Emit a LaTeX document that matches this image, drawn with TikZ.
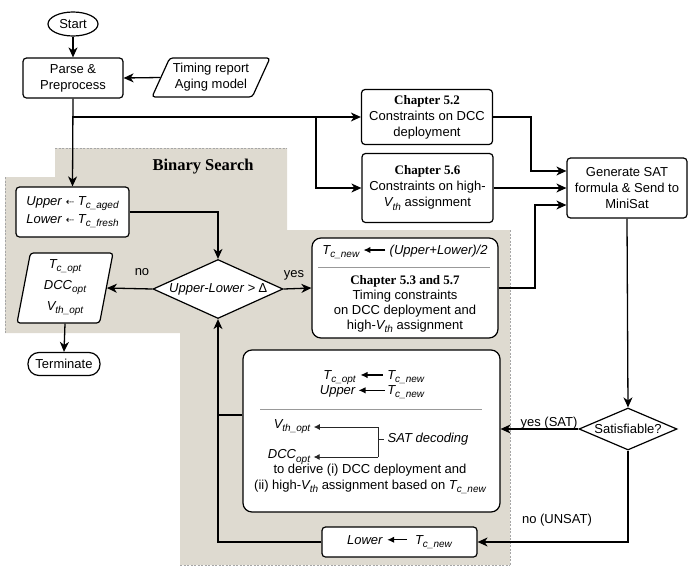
\documentclass[tikz,border=0pt]{standalone}
\usepackage{fontspec}
\setmainfont{Liberation Sans}
\newfontfamily\serifb{Liberation Serif}
\newfontfamily\djv{DejaVu Sans}
\usetikzlibrary{shapes.geometric,arrows.meta,calc}
\definecolor{bgfill}{RGB}{222,218,208}
\newcommand\sbs[1]{\raisebox{-0.45ex}{\fontsize{10}{10}\selectfont #1}}
\newcommand\larr[1]{\tikz[baseline=-0.35em]\draw[-{Latex[length=7pt,width=6.5pt]},line width=1.2pt] (#1,0pt)--(0pt,0pt);}
\newcommand\darr{{\djv\fontsize{10}{10}\selectfont ⇠}}
\begin{document}
\begin{tikzpicture}[x=1pt,y=-1pt,
  every node/.style={font=\fontsize{13}{16}\selectfont},
  box/.style={draw, line width=1.2pt, fill=white, rounded corners=3.5pt, align=center, inner sep=2pt},
  bigr/.style={box, rounded corners=9pt},
  para/.style={draw, line width=1.2pt, fill=white, trapezium, trapezium stretches body, rounded corners=3pt, align=center, inner sep=1pt},
  dmd/.style={draw, line width=1.2pt, fill=white, diamond, inner sep=0pt, align=center},
  arr/.style={line width=1.3pt, -{Stealth[length=10pt,width=9pt,inset=3pt]}},
  ln/.style={line width=1.3pt},
  sarr/.style={line width=1pt, black!85, -{Latex[length=6pt,width=6pt]}},
  dashln/.style={gray!70, line width=0.7pt, dash pattern=on 2pt off 1.5pt},
  sepln/.style={gray!80, line width=0.6pt},
  lbl/.style={inner sep=1pt}]
\useasboundingbox (0,0) rectangle (697,571);
% background region
\fill[bgfill] (55,148) -- (287,148) -- (287,230) -- (510,230) -- (510,565) -- (180,565) -- (180,333) -- (5,333) -- (5,177) -- (55,177) -- cycle;
\draw[dashln] (55,148) -- (287,148);
\draw[dashln] (5,177) -- (5,333);
\draw[dashln] (510,230) -- (510,565);
\draw[dashln] (180,565) -- (510,565);
\node[font=\serifb\bfseries\fontsize{16.5}{18}\selectfont] (bs) at (203,167) {Binary Search};

% nodes
\node[draw, line width=1.2pt, fill=white, ellipse, minimum width=50pt, minimum height=24pt, inner sep=0pt] (start) at (73,24) {Start};
\node[box, minimum width=100pt, minimum height=40pt] (parse) at (73,78) {Parse \&\\Preprocess};
\node[para, trapezium left angle=59.5, trapezium right angle=120.5, minimum width=118pt, minimum height=39pt] (timing) at (211,77.5) {Timing report\\Aging model};
\node[box, minimum width=131pt, minimum height=55pt] (c52) at (427,117) {{\serifb\bfseries Chapter 5.2}\\Constraints on DCC\\deployment};
\node[box, minimum width=131pt, minimum height=69pt] (c56) at (427.5,188) {{\serifb\bfseries Chapter 5.6}\\Constraints on high-\\\textit{V\sbs{th}} assignment};
\node[box, minimum width=120pt, minimum height=60pt] (gen) at (627,188) {Generate SAT\\formula \& Send to\\MiniSat};
\node[box, minimum width=113pt, minimum height=50pt, align=left, font=\fontsize{13}{18}\selectfont] (upbox) at (72.5,212) {\textit{Upper} \darr{} \textit{T\sbs{c\_aged}}\\\textit{Lower} \darr{} \textit{T\sbs{c\_fresh}}};
\node[dmd, aspect=2.2, minimum width=130pt, minimum height=59pt] (dia1) at (218,289) {\textit{Upper-Lower >} ∆};
\node[para, trapezium left angle=77, trapezium right angle=103, minimum width=96pt, minimum height=70pt, font=\fontsize{13}{21}\selectfont] (optp) at (65,288) {\textit{T\sbs{c\_opt}}\\\textit{DCC\sbs{opt}}\\\textit{V\sbs{th\_opt}}};
\node[box, rounded corners=11pt, minimum width=72pt, minimum height=23pt, inner sep=0pt] (term) at (64,364) {Terminate};
\node[bigr, minimum width=186pt, minimum height=100pt] (box53) at (405,288) {};
\node[bigr, minimum width=257pt, minimum height=162pt] (bigbox) at (371.5,431) {};
\node[box, minimum width=155pt, minimum height=30pt] (lower) at (399.5,542) {\textit{Lower}\ \larr{20pt}\ \ \textit{T\sbs{c\_new}}};
\node[dmd, aspect=2.33, minimum width=98pt, minimum height=42pt] (dia2) at (628,429) {Satisfiable?};

% box 5.3 content
\node (r53) at (405,252) {\textit{T\sbs{c\_new}} \larr{22pt} \textit{(Upper+Lower)/2}};
\draw[sepln] (318,267) -- (490,267);
\node[align=center, font=\fontsize{13}{15}\selectfont] (t53) at (405,304) {{\serifb\bfseries Chapter 5.3 and 5.7}\\Timing constraints\\on DCC deployment and\\high-\textit{V\sbs{th}} assignment};

% big box content
\node (rows) at (372,384) {\begin{tabular}{@{}r@{\,}c@{\,}l@{}}\textit{T\sbs{c\_opt}} & \larr{22pt} & \textit{T\sbs{c\_new}}\\[-1pt] \textit{Upper} & \larr{26pt} & \textit{T\sbs{c\_new}}\end{tabular}};
\draw[sepln] (260,409) -- (482,409);
\node (vth) at (292,427) {\textit{V\sbs{th\_opt}}};
\node (dcc) at (289,457) {\textit{DCC\sbs{opt}}};
\node (satd) at (428,439) {\textit{SAT decoding}};
\coordinate (bv) at (378,0);
\draw[sarr] (bv |- vth.east) -- (vth.east);
\draw[sarr] (bv |- dcc.east) -- (dcc.east);
\draw[line width=1pt, black!85] (bv |- vth.east) -- (bv |- dcc.east);
\draw[line width=1pt, black!85] (bv |- satd.west) -- (satd.west);
\node[align=center] (derive) at (370,479) {to derive (i) DCC deployment and\\(ii) high-\textit{V\sbs{th}} assignment based on \textit{T\sbs{c\_new}}};

% labels
\node[lbl] (lno) at (142,272) {no};
\node[lbl] (lyes) at (294,275) {yes};
\node[lbl] (lsat) at (549,423) {yes (SAT)};
\node[lbl] (lunsat) at (557,520) {no (UNSAT)};

% connectors
\coordinate (j0) at (73,117);
\coordinate (j1) at (316,117);
\coordinate (k1) at (531,117);
\coordinate (k2) at (535,205);
\coordinate (k3) at (218,415);
\coordinate (g1) at ($(gen.west)+(0,-17)$);
\coordinate (g3) at ($(gen.west)+(0,17)$);
\draw[arr] (start.south) -- (parse.north);
\draw[arr] (timing.west) -- (parse.east);
\draw[arr] (parse.south) -- (upbox.north);
\draw[arr] (j0) -- (c52.west);
\draw[arr] (j1) |- (c56.west);
\draw[arr] (c52.east) -- (k1) |- (g1);
\draw[arr] (c56.east) -- (c56.east -| gen.west);
\draw[arr] (box53.east) -| (k2) -- (g3);
\draw[arr] (upbox.east) -| (dia1.north);
\draw[arr] (dia1.west) -- (optp.east);
\draw[arr] (dia1.east) -- (box53.west);
\draw[arr] (optp.south) -- (term.north);
\draw[arr] (gen.south) -- (dia2.north);
\draw[arr] (dia2.west) -- (dia2.west -| bigbox.east);
\draw[arr] (dia2.south) |- (lower.east);
\draw[arr] (lower.west) -| (dia1.south);
\draw[ln] (bigbox.west |- k3) -- (k3);
\end{tikzpicture}
\end{document}
